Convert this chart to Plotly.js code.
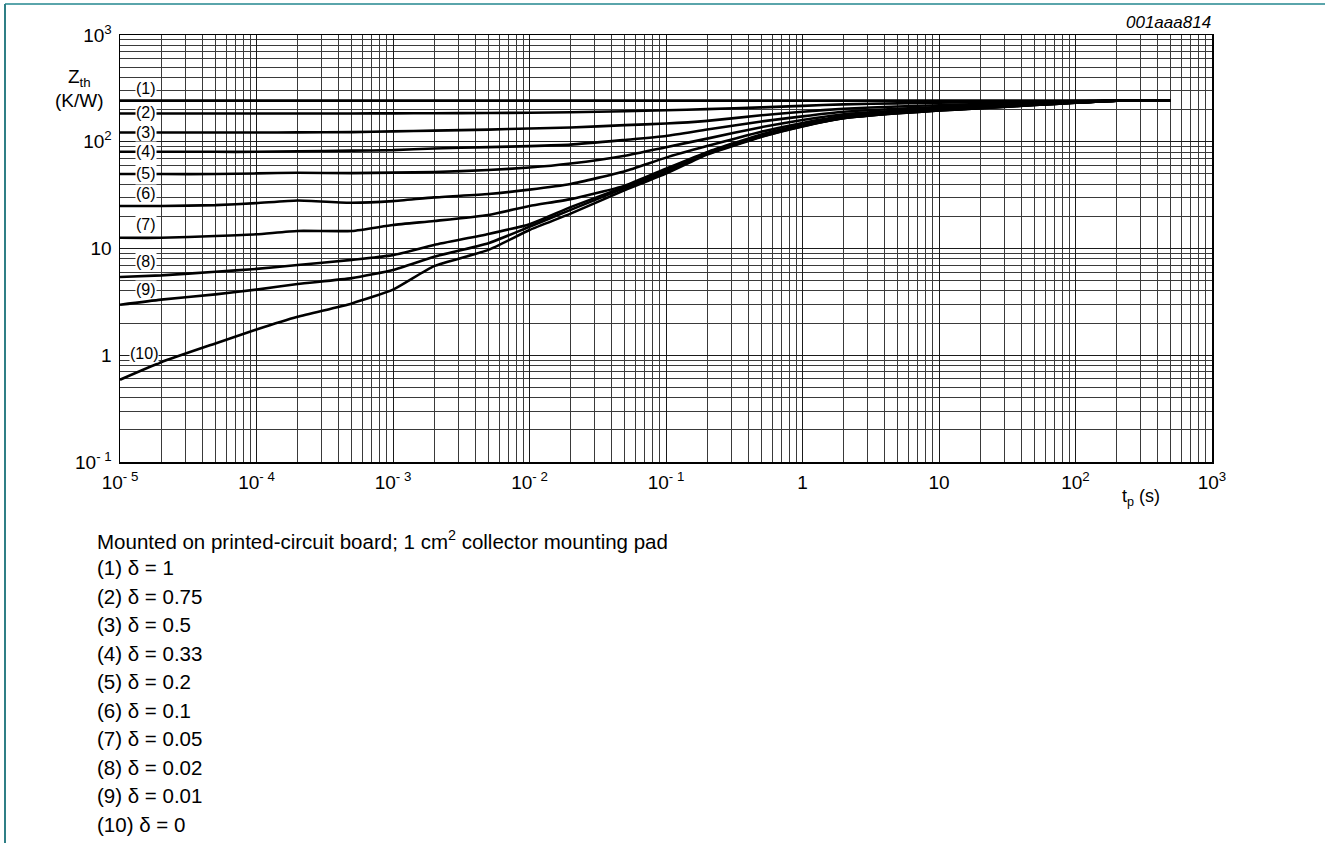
<!DOCTYPE html>
<html>
<head>
<meta charset="utf-8">
<script src="https://cdn.plot.ly/plotly-3.0.1.min.js"></script>
<style>
  html, body { margin: 0; padding: 0; background: #fff; }
  #chart { width: 1325px; height: 843px; }
</style>
</head>
<body>
<div id="chart"></div>
<script>
// ---- data ----
const tp = [1e-5, 2e-5, 5e-5, 1e-4, 2e-4, 5e-4, 1e-3, 2e-3, 5e-3, 1e-2, 2e-2, 5e-2,
            0.1, 0.2, 0.5, 1, 2, 5, 10, 20, 50, 100, 200, 500];

const zth1  = [243, 243, 243, 243, 243, 243, 243, 243, 243, 243, 243, 243, 243, 243, 243, 243, 243, 243, 243, 243, 243, 243, 243, 243];
const zth2  = [184, 184, 184, 184, 184, 184, 184.5, 185, 186, 187, 189, 193, 197, 202, 210, 217, 224, 229, 232, 235, 238, 241, 243, 243];
const zth3  = [122, 122, 122, 122, 122.5, 123, 125, 127, 130, 133, 136, 143, 148, 157, 177, 191, 204, 214, 220, 225, 232, 238, 243, 243];
const zth4  = [80.5, 80.5, 80.5, 80.5, 81.5, 82.5, 83.5, 86.5, 89, 91, 94, 104, 113, 130, 155, 173, 191, 204, 211, 218, 228, 236, 243, 243];
const zth5  = [49.8, 49.8, 49.8, 50.5, 51.2, 50.8, 51.4, 52, 54.3, 57.3, 62.5, 74, 89, 107, 137, 160, 181, 196, 205, 213, 225, 234, 243, 243];
const zth6  = [25, 25, 25.5, 26.6, 28.2, 26.8, 27.8, 30.1, 32.4, 35.6, 40.2, 53, 71, 91, 124, 150, 174, 191, 201, 210, 223, 233, 243, 243];
const zth7  = [12.6, 12.6, 13.1, 13.6, 14.6, 14.6, 16.6, 18.1, 20.6, 25, 29, 38.8, 56, 80, 117, 144, 170, 188, 199, 208, 222, 233, 243, 243];
const zth8  = [5.4, 5.6, 6.05, 6.44, 7.0, 7.83, 8.67, 10.8, 13.7, 16.9, 24.4, 38, 54, 79, 114, 141, 167, 186, 197, 207, 221, 232, 243, 243];
const zth9  = [2.97, 3.32, 3.72, 4.12, 4.65, 5.28, 6.28, 8.36, 11.2, 16, 23, 37, 52, 77, 112, 140, 166, 185, 196, 206, 221, 232, 243, 243];
const zth10 = [0.59, 0.86, 1.29, 1.74, 2.29, 3.06, 4.12, 6.84, 9.7, 14.9, 21.2, 35.3, 50.3, 75.9, 111, 139, 166, 185, 196, 206, 221, 232, 243, 243];

const curveLabels = ["(1)", "(2)", "(3)", "(4)", "(5)", "(6)", "(7)", "(8)", "(9)", "(10)"];
const deltas = ["1", "0.75", "0.5", "0.33", "0.2", "0.1", "0.05", "0.02", "0.01", "0"];

const xTickVals = [1e-5, 1e-4, 1e-3, 1e-2, 1e-1, 1, 10, 100, 1000];
const xTickText = ["10<sup>- 5</sup>", "10<sup>- 4</sup>", "10<sup>- 3</sup>", "10<sup>- 2</sup>", "10<sup>- 1</sup>", "1", "10", "10<sup>2</sup>", "10<sup>3</sup>"];
const yTickVals = [0.1, 1, 10, 100, 1000];
const yTickText = ["10<sup>- 1</sup>", "1", "10", "10<sup>2</sup>", "10<sup>3</sup>"];

const mountNote = "Mounted on printed-circuit board; 1 cm<sup>2</sup> collector mounting pad";
const chartCode = "001aaa814";

// ---- layout constants ----
const W = 1325, H = 843;
const PL = 120, PR = 1212, PT = 35, PB = 462;
const px2x = x => (x - PL) / (PR - PL);
const px2y = y => (PB - y) / (PB - PT);

const FONT = "Arial, 'Liberation Sans', Helvetica, sans-serif";
const multipliers = [2, 3, 4, 5, 6, 7, 8, 9];
function minorVals(d0, d1) {
  const v = [];
  for (let d = d0; d < d1; d++) multipliers.forEach(m => v.push(m * Math.pow(10, d)));
  return v;
}

const series = [zth1, zth2, zth3, zth4, zth5, zth6, zth7, zth8, zth9, zth10];
const traces = series.map((z, i) => ({
  x: tp, y: z, type: "scatter", mode: "lines",
  line: { color: "#000", width: 2.6, shape: "spline", smoothing: 0.5 },
  hoverinfo: "skip", name: curveLabels[i]
}));

// curve label placement (pixel centres)
const labelPos = [[146, 88], [146, 113], [146, 132], [146, 151.5], [146, 173], [146, 193], [146, 224], [146, 261.5], [146, 289], [144, 353]];

const annotations = [];
curveLabels.forEach((lab, i) => {
  annotations.push({
    xref: "paper", yref: "paper", x: px2x(labelPos[i][0]), y: px2y(labelPos[i][1]),
    xanchor: "center", yanchor: "middle", text: lab, showarrow: false,
    font: { family: FONT, size: 16, color: "#000" }, bgcolor: "#fff", borderpad: 0
  });
});
// axis titles
annotations.push({ xref: "paper", yref: "paper", x: px2x(79), y: px2y(78), xanchor: "center", yanchor: "middle",
  text: "Z<sub>th</sub>", showarrow: false, font: { family: FONT, size: 19, color: "#000" } });
annotations.push({ xref: "paper", yref: "paper", x: px2x(79), y: px2y(101), xanchor: "center", yanchor: "middle",
  text: "(K/W)", showarrow: false, font: { family: FONT, size: 19, color: "#000" } });
annotations.push({ xref: "paper", yref: "paper", x: px2x(1141), y: px2y(497), xanchor: "center", yanchor: "middle",
  text: "t<sub>p</sub> (s)", showarrow: false, font: { family: FONT, size: 18, color: "#000" } });
annotations.push({ xref: "paper", yref: "paper", x: px2x(1213), y: px2y(23), xanchor: "right", yanchor: "middle",
  text: "<i>" + chartCode + "</i>", showarrow: false, font: { family: FONT, size: 17, color: "#000" } });
// notes below
annotations.push({ xref: "paper", yref: "paper", x: px2x(95), y: px2y(540), xanchor: "left", yanchor: "middle",
  text: mountNote, showarrow: false, font: { family: FONT, size: 20.5, color: "#000" } });
deltas.forEach((d, i) => {
  annotations.push({ xref: "paper", yref: "paper", x: px2x(95), y: px2y(567.5 + i * 28.5), xanchor: "left", yanchor: "middle",
    text: curveLabels[i] + " \u03b4 = " + d, showarrow: false, font: { family: FONT, size: 20.5, color: "#000" } });
});

const shapes = [
  { type: "line", xref: "paper", yref: "paper", x0: px2x(5), x1: px2x(W), y0: px2y(4), y1: px2y(4),
    line: { color: "#5aa5ab", width: 2 } },
  { type: "line", xref: "paper", yref: "paper", x0: px2x(5), x1: px2x(5), y0: px2y(4), y1: px2y(H),
    line: { color: "#2f7f86", width: 2 } }
];

const axisCommon = {
  type: "log", tickmode: "array", ticks: "", showline: true, linecolor: "#000", linewidth: 1.5, mirror: true,
  zeroline: false, showgrid: true, gridcolor: "#1a1a1a", gridwidth: 1,
  tickfont: { family: FONT, size: 19, color: "#000" }
};

const layout = {
  width: W, height: H,
  margin: { l: PL, r: W - PR, t: PT, b: H - PB, pad: 0 },
  paper_bgcolor: "#fff", plot_bgcolor: "#fff",
  showlegend: false,
  font: { family: FONT, color: "#000" },
  xaxis: Object.assign({}, axisCommon, {
    range: [-5, 3], tickvals: xTickVals, ticktext: xTickText, ticklabelstandoff: 3,
    minor: { tickmode: "array", tickvals: minorVals(-5, 3), showgrid: true, gridcolor: "#3a3a3a", gridwidth: 1, ticks: "" }
  }),
  yaxis: Object.assign({}, axisCommon, {
    range: [-1, 3], tickvals: yTickVals, ticktext: yTickText, ticklabelstandoff: 3,
    minor: { tickmode: "array", tickvals: minorVals(-1, 3), showgrid: true, gridcolor: "#3a3a3a", gridwidth: 1, ticks: "" }
  }),
  annotations: annotations,
  shapes: shapes
};

Plotly.newPlot("chart", traces, layout, { displayModeBar: false, staticPlot: true });
</script>
</body>
</html>
